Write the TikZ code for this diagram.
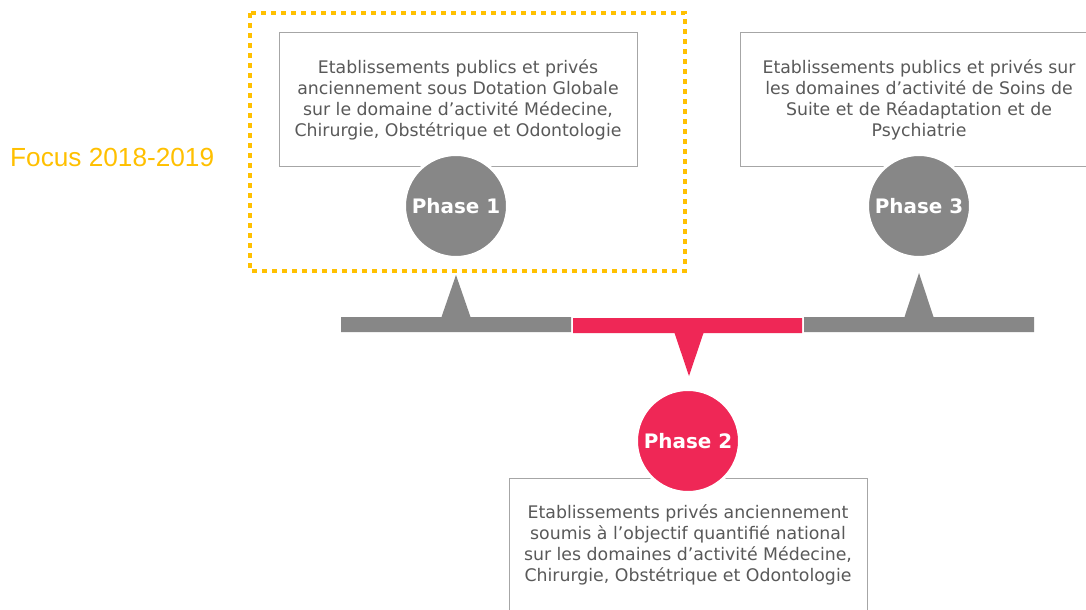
\documentclass[tikz,border=0pt]{standalone}
\usepackage{fontspec}
\setmainfont{DejaVu Sans}
\newfontfamily\focusfont{Liberation Sans}
\definecolor{boxgray}{HTML}{A6A6A6}
\definecolor{txtgray}{HTML}{595959}
\definecolor{phgray}{HTML}{878787}
\definecolor{phpink}{HTML}{EF2756}
\definecolor{focusyel}{HTML}{FFC000}
\begin{document}
\begin{tikzpicture}[x=1bp,y=-1bp,
 infobox/.style={draw=boxgray, line width=1bp, minimum width=358bp, minimum height=134bp,
   align=center, text=txtgray, font=\fontsize{17.4}{21}\selectfont, inner sep=0pt},
 phase/.style={circle, line width=3bp, draw=white, minimum size=103bp, inner sep=0pt,
   text=white, font=\fontsize{20}{24}\selectfont\bfseries},
 focusbox/.style={draw=focusyel, line width=4.5bp, dash pattern=on 4.8bp off 5.2bp},
]
\clip (0,0) rectangle (1086,610);
\fill[white] (0,0) rectangle (1086,610);

% focus frame
\draw[focusbox] (250,13) rectangle (685,271);
\node[anchor=west, inner sep=0pt, text=focusyel, font=\focusfont\fontsize{26.3}{30}\selectfont] (focus) at (10,157) {Focus 2018-2019};

% boxes
\node[infobox] (b1) at (458,100) {Etablissements publics et privés\\anciennement sous Dotation Globale\\sur le domaine d’activité Médecine,\\Chirurgie, Obstétrique et Odontologie};
\node[infobox] (b3) at (919,100) {Etablissements publics et privés sur\\les domaines d’activité de Soins de\\Suite et de Réadaptation et de\\Psychiatrie};
\node[infobox] (b2) at (688,545) {Etablissements privés anciennement\\soumis à l’objectif quantifié national\\sur les domaines d’activité Médecine,\\Chirurgie, Obstétrique et Odontologie};

% timeline bars with spikes
\fill[phgray] (341,317) -- (441.5,317) -- (456,275) -- (470.5,317) -- (571,317) -- (571,332) -- (341,332) -- cycle;
\fill[phpink] (573,318) -- (802,318) -- (802,333) -- (703.5,333) -- (689,376) -- (674.5,333) -- (573,333) -- cycle;
\fill[phgray] (804,317) -- (904.5,317) -- (919,273) -- (933.5,317) -- (1034,317) -- (1034,332) -- (804,332) -- cycle;

% phase circles
\node[phase, fill=phgray] (p1) at (456,206) {Phase 1};
\node[phase, fill=phgray] (p3) at (919,206) {Phase 3};
\node[phase, fill=phpink] (p2) at (688,441) {Phase 2};
\end{tikzpicture}
\end{document}
